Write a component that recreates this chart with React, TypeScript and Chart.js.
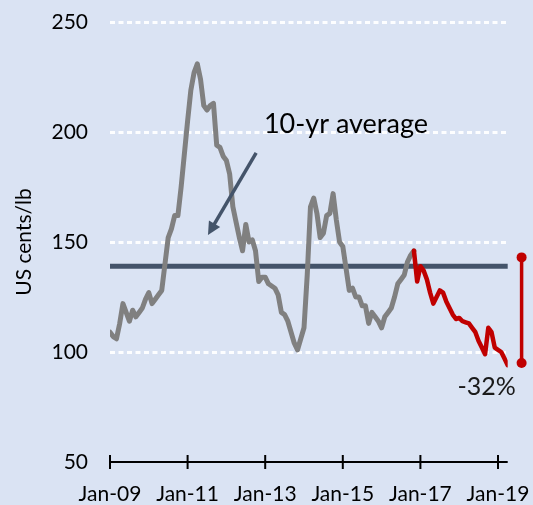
import React, { useEffect, useRef } from "react";
import { Chart, registerables } from "chart.js";

Chart.register(...registerables);

// Monthly cotton price, US cents/lb (month index 0 = Jan-09)
const grayStartMonth = 0;
const grayValues = [
  109, 107, 106, 113, 122, 118, 114, 119, 116, 118, 120, 124,
  127, 122, 124, 126, 128, 140, 152, 156, 162, 162, 175, 190,
  205, 219, 227, 231, 224, 212, 210, 212, 213, 194, 193, 189,
  187, 181, 166, 159, 152, 146, 158, 150, 151, 146, 132, 134,
  134, 131, 130, 129, 126, 118, 117, 114, 109, 104, 101, 106,
  111, 135, 166, 170, 163, 152, 154, 162, 163, 172, 160, 150,
  148, 138, 128, 129, 125, 125, 121, 121, 113, 118, 116, 114,
  111, 116, 118, 120, 125, 131, 133, 135, 141, 144, 146,
];
const redStartMonth = 94;
const redValues = [
  146, 132, 139, 137, 133, 127, 122, 125, 128, 127, 123, 120,
  117, 115, 115.5, 114, 113.5, 113, 111, 109, 105, 102, 99, 111,
  109, 102, 101, 100, 97, 94,
];
const averageValue = 139;
const averageMonths = [0, 123];
const changeMarkerMonth = 127.3;
const changeMarkerValues = [143, 95];
const xTickMonths = [0, 24, 48, 72, 96, 120];
const xTickLabels = ["Jan-09", "Jan-11", "Jan-13", "Jan-15", "Jan-17", "Jan-19"];
const yMin = 50;
const yMax = 250;
const yStep = 50;
const yTitle = "US cents/lb";
const averageLabel = "10-yr average";
const averageLabelPos = { x: 47.6, y: 199.4 };
const arrowFrom = { x: 45.2, y: 190.5 };
const arrowTo = { x: 30.3, y: 153.2 };
const changeLabel = "-32%";
const changeLabelPos = { x: 116.5, y: 80.5 };

const BG = "#dae3f3";
const NAVY = "#44546a";
const GRAY = "#808080";
const RED = "#c00000";
const FONT = "Lato";

const overlay = {
  id: "overlay",
  beforeDraw(chart: any) {
    const { ctx, width, height } = chart;
    ctx.save();
    ctx.fillStyle = BG;
    ctx.fillRect(0, 0, width, height);
    ctx.restore();
  },
  afterDatasetsDraw(chart: any) {
    const { ctx } = chart;
    const x = chart.scales.x;
    const y = chart.scales.y;
    ctx.save();
    // x axis line with crossing ticks
    const y0 = y.getPixelForValue(yMin);
    ctx.strokeStyle = "#000";
    ctx.lineWidth = 2;
    ctx.beginPath();
    ctx.moveTo(x.getPixelForValue(x.min), y0);
    ctx.lineTo(x.getPixelForValue(x.max), y0);
    xTickMonths.forEach((m) => {
      const px = x.getPixelForValue(m);
      ctx.moveTo(px, y0 - 7);
      ctx.lineTo(px, y0 + 7);
    });
    ctx.stroke();

    // end markers of the change bar (outside the chart area)
    const meta = chart.getDatasetMeta(3);
    ctx.fillStyle = RED;
    meta.data.forEach((pt: any) => {
      ctx.beginPath();
      ctx.arc(pt.x, pt.y, 5, 0, Math.PI * 2);
      ctx.fill();
    });

    // arrow
    const ax0 = x.getPixelForValue(arrowFrom.x);
    const ay0 = y.getPixelForValue(arrowFrom.y);
    const ax1 = x.getPixelForValue(arrowTo.x);
    const ay1 = y.getPixelForValue(arrowTo.y);
    const ang = Math.atan2(ay1 - ay0, ax1 - ax0);
    const headLen = 13;
    const headW = 6.5;
    const bx = ax1 - headLen * Math.cos(ang);
    const by = ay1 - headLen * Math.sin(ang);
    ctx.strokeStyle = NAVY;
    ctx.fillStyle = NAVY;
    ctx.lineWidth = 3.5;
    ctx.beginPath();
    ctx.moveTo(ax0, ay0);
    ctx.lineTo(bx + 2 * Math.cos(ang), by + 2 * Math.sin(ang));
    ctx.stroke();
    ctx.beginPath();
    ctx.moveTo(ax1, ay1);
    ctx.lineTo(bx + headW * Math.sin(ang), by - headW * Math.cos(ang));
    ctx.lineTo(bx - headW * Math.sin(ang), by + headW * Math.cos(ang));
    ctx.closePath();
    ctx.fill();

    // texts
    ctx.fillStyle = "#000";
    ctx.textBaseline = "alphabetic";
    ctx.textAlign = "left";
    ctx.font = `27px ${FONT}`;
    ctx.fillText(averageLabel, x.getPixelForValue(averageLabelPos.x), y.getPixelForValue(averageLabelPos.y));
    ctx.textAlign = "center";
    ctx.font = `25px ${FONT}`;
    ctx.fillStyle = "#1a1a1a";
    ctx.fillText(changeLabel, x.getPixelForValue(changeLabelPos.x), y.getPixelForValue(changeLabelPos.y));
    ctx.restore();
  },
};

export default function App() {
  const ref = useRef<HTMLCanvasElement | null>(null);

  useEffect(() => {
    if (!ref.current) return;
    const grayData = grayValues.map((v, i) => ({ x: grayStartMonth + i, y: v }));
    const redData = redValues.map((v, i) => ({ x: redStartMonth + i, y: v }));
    const avgData = averageMonths.map((m) => ({ x: m, y: averageValue }));
    const markerData = changeMarkerValues.map((v) => ({ x: changeMarkerMonth, y: v }));

    const chart = new Chart(ref.current, {
      type: "line",
      data: {
        datasets: [
          {
            data: avgData,
            borderColor: NAVY,
            borderWidth: 5,
            borderCapStyle: "round",
            pointRadius: 0,
            order: 3,
          },
          {
            data: grayData,
            borderColor: GRAY,
            borderWidth: 5,
            borderJoinStyle: "round",
            borderCapStyle: "round",
            pointRadius: 0,
            tension: 0,
            order: 2,
          },
          {
            data: redData,
            borderColor: RED,
            borderWidth: 4.5,
            borderJoinStyle: "round",
            borderCapStyle: "round",
            pointRadius: 0,
            tension: 0,
            order: 1,
          },
          {
            data: markerData,
            borderColor: RED,
            borderWidth: 3.5,
            pointRadius: 0,
            clip: false as any,
            order: 0,
          },
        ],
      },
      options: {
        responsive: false,
        animation: false,
        events: [],
        layout: { padding: { top: 22, right: 25.3, left: 0, bottom: 0 } },
        plugins: {
          legend: { display: false },
          tooltip: { enabled: false },
        },
        scales: {
          x: {
            type: "linear",
            min: 0,
            max: 123,
            afterFit: (s: any) => {
              s.height = 43;
              s.paddingLeft = 0;
              s.paddingRight = 0;
            },
            afterBuildTicks: (s: any) => {
              s.ticks = xTickMonths.map((v) => ({ value: v }));
            },
            grid: { display: false, drawTicks: false, tickLength: 0 },
            border: { display: false },
            ticks: {
              autoSkip: false,
              maxRotation: 0,
              padding: 20,
              color: "#000",
              font: { family: FONT, size: 21 },
              callback: (v: any) => xTickLabels[xTickMonths.indexOf(Number(v))],
            },
          },
          y: {
            type: "linear",
            min: yMin,
            max: yMax,
            afterFit: (s: any) => {
              s.width = 110;
              s.paddingTop = 0;
              s.paddingBottom = 0;
            },
            ticks: {
              stepSize: yStep,
              padding: 22,
              color: "#000",
              font: { family: FONT, size: 21 },
            },
            grid: {
              drawTicks: false,
              lineWidth: 3,
              color: (c: any) => (c.tick && c.tick.value === yMin ? "rgba(0,0,0,0)" : "rgba(255,255,255,0.95)"),
            },
            border: { display: false, dash: [5, 3.5] },
            title: {
              display: true,
              text: yTitle,
              color: "#000",
              font: { family: FONT, size: 21 },
              padding: { top: 12, bottom: 0 },
            },
          },
        },
      },
      plugins: [overlay],
    });
    return () => chart.destroy();
  }, []);

  return (
    <div style={{ position: "fixed", left: 0, top: 0, width: 533, height: 505 }}>
      <canvas ref={ref} width={533} height={505} style={{ display: "block" }} />
    </div>
  );
}
